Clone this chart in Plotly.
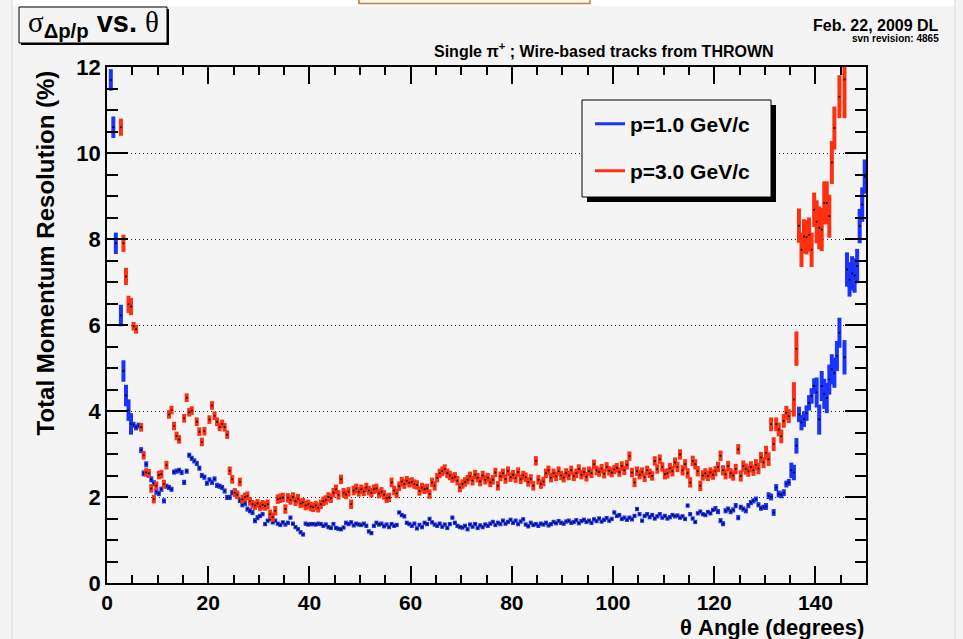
import numpy as np
import plotly.graph_objects as go

# theta bin centres (0.5 degree bins)
theta = np.arange(0.25, 150, 0.5)

# sigma(dp/p) in %, p = 1.0 GeV/c, one row per 5 degrees
res_p1 = [
    None, 11.7, 10.6, 7.9, None, 6.22, 4.93, 4.36, 4.02, 3.70,
    3.68, 3.62, 3.66, 3.09, 2.55, 2.76, 2.52, 2.41, 2.32, 2.12,
    2.08, 2.18, 1.91, 2.25, 2.22, 2.18, 2.58, 2.60, 2.62, 2.57,
    2.34, 2.60, 2.97, 2.90, 2.84, 2.78, 2.67, 2.50, 2.46, 2.32,
    2.40, 2.34, 2.42, 2.27, 2.25, 2.22, 2.14, 1.99, 1.99, 2.10,
    2.14, 2.05, 1.92, 1.82, 1.85, 1.72, 1.68, 1.64, 1.45, 1.52,
    1.56, 1.60, 1.37, 1.45, 1.49, 1.41, 1.45, 1.38, 1.35, 1.41,
    1.36, 1.40, 1.52, 1.38, 1.30, 1.25, 1.18, 1.13, 1.38, 1.36,
    1.37, 1.37, 1.36, 1.38, 1.37, 1.33, 1.36, 1.30, 1.28, 1.37,
    1.28, 1.26, 1.25, 1.29, 1.40, 1.37, 1.41, 1.34, 1.38, 1.36,
    1.35, 1.38, 1.33, 1.20, 1.16, 1.33, 1.40, 1.36, 1.38, 1.32,
    1.36, 1.30, 1.37, 1.33, 1.35, 1.64, 1.58, 1.55, 1.40, 1.37,
    1.33, 1.38, 1.27, 1.35, 1.30, 1.40, 1.37, 1.49, 1.41, 1.36,
    1.33, 1.38, 1.31, 1.36, 1.28, 1.37, 1.52, 1.40, 1.33, 1.30,
    1.29, 1.33, 1.25, 1.36, 1.31, 1.37, 1.28, 1.34, 1.30, 1.36,
    1.33, 1.38, 1.42, 1.35, 1.40, 1.37, 1.45, 1.38, 1.42, 1.47,
    1.40, 1.45, 1.37, 1.43, 1.48, 1.36, 1.32, 1.40, 1.35, 1.37,
    1.33, 1.38, 1.36, 1.40, 1.34, 1.37, 1.42, 1.39, 1.44, 1.40,
    1.38, 1.43, 1.45, 1.40, 1.42, 1.46, 1.39, 1.44, 1.47, 1.42,
    1.45, 1.40, 1.48, 1.44, 1.50, 1.43, 1.47, 1.51, 1.45, 1.49,
    1.64, 1.56, 1.58, 1.49, 1.52, 1.47, 1.52, 1.48, 1.56, 1.72,
    1.60, 1.45, 1.56, 1.60, 1.53, 1.58, 1.50, 1.55, 1.60, 1.52,
    1.56, 1.50, 1.53, 1.58, 1.55, 1.57, 1.52, 1.55, 1.49, 1.80,
    1.60, 1.50, 1.42, 1.62, 1.66, 1.60, 1.58, 1.65, 1.62, 1.70,
    1.73, 1.66, 1.45, 1.38, 1.68, 1.72, 1.66, 1.70, 1.80, 1.52,
    1.76, 1.72, 1.68, 1.80, 1.87, 1.91, 1.95, 1.82, 1.74, 1.76,
    1.78, 2.03, 2.00, 1.64, 2.22, 2.07, 2.05, 2.10, 2.30, 2.34,
    2.62, 2.57, 3.19, 3.92, 3.73, 3.81, 3.95, 4.19, 4.35, 4.58,
    4.43, 3.80, 4.58, 4.40, 4.30, 4.73, 4.97, 4.89, 5.28, 5.82,
    None, 5.25, 7.29, 7.06, 7.20, 7.15, 7.37, 8.30, 8.80, 9.45,
]

# p = 3.0 GeV/c
res_p3 = [
    None, None, None, None, None, 10.6, 7.90, 7.13, 6.48, 6.43,
    5.97, 5.90, None, 3.62, 2.97, 2.57, 2.55, 2.20, 1.95, 2.26,
    2.51, 2.53, 2.30, 2.74, 3.92, 4.02, 3.65, 3.42, 3.34, None,
    3.83, 4.31, 3.97, 4.01, None, 3.75, 3.52, 3.28, 3.53, None,
    3.80, 4.13, 3.89, 3.75, 3.63, 3.70, 3.62, 3.45, 2.61, 2.41,
    2.10, 2.05, 2.35, 1.95, 2.00, 2.03, 1.90, 1.83, 1.80, 1.85,
    1.78, 1.82, 1.79, 1.83, 1.60, 1.53, 1.68, 1.95, 1.97, 1.99,
    1.72, 1.98, 1.93, 2.00, 1.90, 1.96, 1.85, 1.87, 1.80, 1.83,
    1.78, 1.76, 1.80, 1.75, 1.83, 1.90, 1.93, 2.00, 1.97, 2.10,
    2.18, 2.05, 2.41, 2.10, 2.06, 2.12, 1.83, 2.15, 2.20, 2.12,
    2.18, 2.13, 2.22, 2.15, 2.10, 2.18, 2.20, 2.08, 2.12, 2.05,
    1.97, 1.99, 2.34, 2.15, 2.08, 2.25, 2.36, 2.30, 2.38, 2.33,
    2.35, 2.30, 2.28, 2.14, 2.22, 2.18, 2.20, 2.07, 2.34, 2.26,
    2.45, 2.55, 2.60, 2.65, 2.55, 2.50, 2.44, 2.47, 2.38, 2.22,
    2.30, 2.35, 2.40, 2.48, 2.38, 2.52, 2.45, 2.36, 2.50, 2.40,
    2.45, 2.34, 2.40, 2.57, 2.26, 2.48, 2.55, 2.42, 2.60, 2.46,
    2.52, 2.44, 2.58, 2.41, 2.50, 2.46, 2.35, 2.42, 2.26, 2.84,
    2.40, 2.30, 2.36, 2.55, 2.62, 2.45, 2.55, 2.48, 2.60, 2.50,
    2.45, 2.56, 2.50, 2.62, 2.48, 2.55, 2.65, 2.52, 2.58, 2.47,
    2.60, 2.55, 2.76, 2.62, 2.58, 2.66, 2.54, 2.70, 2.61, 2.57,
    2.64, 2.68, 2.58, 2.72, 2.62, 2.75, 2.95, 2.57, 2.34, 2.60,
    2.52, 2.58, 2.46, 2.62, 2.55, 2.49, 2.84, 2.65, 2.88, 2.70,
    2.53, 2.55, 2.67, 2.60, 2.80, 2.70, 2.99, 2.62, 2.76, 2.55,
    2.34, 2.84, 2.76, 2.60, 2.26, 2.50, 2.55, 2.49, 2.57, 2.52,
    2.60, 2.70, 2.96, 2.62, 2.53, 2.72, 2.55, 2.50, 2.65, 3.11,
    2.49, 2.72, 2.65, 2.60, 2.70, 2.62, 2.75, 2.66, 2.92, 2.80,
    3.03, 2.88, 3.69, 3.23, 3.69, 3.57, 3.41, 3.77, 3.96, 3.88,
    None, 4.27, 5.45, 8.31, 7.75, 8.06, 8.04, 8.10, 7.75, 8.68,
    8.40, 8.26, 8.22, 8.84, 8.84, 8.53, 9.78, 10.58, None, 11.31,
    None, 11.71, None, None, None, None, None, None, None, None,
]

# error half-widths, one value per 5 degree slice
err_p1 = [0.25, 0.07, 0.06, 0.06, 0.06, 0.06, 0.05, 0.05, 0.05, 0.05,
          0.05, 0.05, 0.05, 0.05, 0.05, 0.05, 0.05, 0.05, 0.05, 0.05,
          0.05, 0.05, 0.05, 0.05, 0.06, 0.06, 0.08, 0.18, 0.35, 0.40]
err_p3 = [0.20, 0.10, 0.10, 0.10, 0.10, 0.10, 0.11, 0.11, 0.11, 0.11,
          0.11, 0.11, 0.11, 0.11, 0.11, 0.11, 0.11, 0.11, 0.11, 0.11,
          0.11, 0.11, 0.12, 0.12, 0.12, 0.13, 0.16, 0.40, 0.50, 0.90]
bin_half = 0.25

BLUE = "#1a33ff"
RED = "#ff3010"
BG = "#f4f4f4"
SANS = "Liberation Sans"

W, H = 963, 639
L, R, T, B = 107, 97, 67, 56


def px_x(p):
    return (p - L) / (W - L - R)


def px_y(p):
    return (H - B - p) / (H - T - B)


fig = go.Figure()

for name, res, err, col in [("p=1.0 GeV/c", res_p1, err_p1, BLUE),
                            ("p=3.0 GeV/c", res_p3, err_p3, RED)]:
    fig.add_trace(go.Scatter(
        x=theta, y=res, mode="markers", showlegend=False,
        marker=dict(color="black", size=2),
        error_y=dict(type="data", array=np.repeat(err, 10), color=col, thickness=4, width=0),
        error_x=dict(type="constant", value=bin_half, color=col, thickness=3, width=0),
        hoverinfo="skip"))

# legend entries (lines, as in the original)
fig.add_trace(go.Scatter(x=[None], y=[None], mode="lines", name="p=1.0 GeV/c",
                         line=dict(color=BLUE, width=3), legend="legend"))
fig.add_trace(go.Scatter(x=[None], y=[None], mode="lines", name="p=3.0 GeV/c",
                         line=dict(color=RED, width=3), legend="legend2"))

leg = dict(bgcolor="rgba(0,0,0,0)", borderwidth=0, xanchor="left", yanchor="middle",
           font=dict(family=SANS, size=21, color="black", weight="bold"), itemwidth=30)

fig.update_layout(
    width=W, height=H,
    margin=dict(l=L, r=R, t=T, b=B),
    paper_bgcolor=BG, plot_bgcolor=BG,
    legend=dict(leg, x=px_x(590), y=px_y(124)),
    legend2=dict(leg, x=px_x(590), y=px_y(171)),
)

fig.update_xaxes(
    range=[0, 150], tick0=0, dtick=20, ticks="inside", ticklen=17, tickwidth=1.5,
    tickcolor="black", showline=True, linecolor="black", linewidth=1.5,
    mirror="allticks", showgrid=False, zeroline=False,
    minor=dict(ticks="inside", ticklen=8, dtick=5, tickcolor="black", tickwidth=1.5),
    tickfont=dict(family=SANS, size=21, color="black", weight="bold"))

fig.update_yaxes(
    range=[0, 12], tick0=0, dtick=2, ticks="inside", ticklen=21, tickwidth=1.5,
    tickcolor="black", showline=True, linecolor="black", linewidth=1.5,
    mirror="allticks", showgrid=True, gridcolor="#222222", griddash="1px,3px", gridwidth=1,
    zeroline=False,
    minor=dict(ticks="inside", ticklen=11, dtick=0.5, tickcolor="black", tickwidth=1.5, showgrid=False),
    tickfont=dict(family=SANS, size=22, color="black", weight="bold"))

shapes = []
# page decoration: white strip on top and orange box
shapes.append(dict(type="rect", xref="paper", yref="paper", x0=px_x(12), x1=px_x(955),
                   y0=px_y(6), y1=px_y(0), fillcolor="white", line=dict(width=0), layer="below"))
shapes.append(dict(type="rect", xref="paper", yref="paper", x0=px_x(359), x1=px_x(590),
                   y0=px_y(3.5), y1=px_y(-5), fillcolor="#fffaf2",
                   line=dict(color="#c87a3a", width=1.5), layer="below"))
shapes.append(dict(type="line", xref="paper", yref="paper", x0=px_x(12), x1=px_x(12),
                   y0=px_y(639), y1=px_y(0), line=dict(color="#d9d9d9", width=1)))
shapes.append(dict(type="line", xref="paper", yref="paper", x0=px_x(955), x1=px_x(955),
                   y0=px_y(639), y1=px_y(0), line=dict(color="#d9d9d9", width=1)))
# title box with shadow
shapes.append(dict(type="rect", xref="paper", yref="paper", x0=px_x(21), x1=px_x(169),
                   y0=px_y(45), y1=px_y(9), fillcolor="black", line=dict(width=0)))
shapes.append(dict(type="rect", xref="paper", yref="paper", x0=px_x(19), x1=px_x(167),
                   y0=px_y(43), y1=px_y(7), fillcolor=BG, line=dict(color="black", width=1)))
# legend box with shadow
shapes.append(dict(type="rect", xref="paper", yref="paper", x0=px_x(587), x1=px_x(776),
                   y0=px_y(202), y1=px_y(105), fillcolor="black", line=dict(width=0), layer="above"))
shapes.append(dict(type="rect", xref="paper", yref="paper", x0=px_x(582), x1=px_x(771),
                   y0=px_y(197), y1=px_y(100), fillcolor=BG, line=dict(color="black", width=1),
                   layer="above"))
fig.update_layout(shapes=shapes)

ann = [
    dict(text=("<span style=\"font-family:'Liberation Serif';font-weight:normal\">σ</span>"
               "<sub>Δp/p</sub> vs. "
               "<span style=\"font-family:'Liberation Serif';font-weight:normal\">θ</span>"),
         x=px_x(93), y=px_y(24), xanchor="center", yanchor="middle",
         font=dict(family=SANS, size=29, color="black", weight="bold")),
    dict(text="Single π<sup>+</sup> ; Wire-based tracks from THROWN",
         x=px_x(776), y=px_y(50), xanchor="right", yanchor="middle",
         font=dict(family=SANS, size=16, color="black", weight="bold")),
    dict(text="Feb. 22, 2009 DL", x=px_x(941), y=px_y(25), xanchor="right", yanchor="middle",
         font=dict(family=SANS, size=16, color="black", weight="bold")),
    dict(text="svn revision: 4865", x=px_x(941), y=px_y(39), xanchor="right", yanchor="middle",
         font=dict(family=SANS, size=10, color="black", weight="bold")),
    dict(text="Total Momentum Resolution (%)", textangle=-90,
         x=px_x(45), y=px_y(69), xanchor="center", yanchor="top",
         font=dict(family=SANS, size=24, color="black", weight="bold")),
    dict(text="θ Angle (degrees)", x=px_x(866), y=px_y(627), xanchor="right", yanchor="middle",
         font=dict(family=SANS, size=22, color="black", weight="bold")),
]
for a in ann:
    a.update(xref="paper", yref="paper", showarrow=False)
fig.update_layout(annotations=ann)

# page body has a default margin; remove it so the figure fills the window exactly
fig.write_html("out.html", config={"displayModeBar": False},
               post_script="document.body.style.margin='0';")
